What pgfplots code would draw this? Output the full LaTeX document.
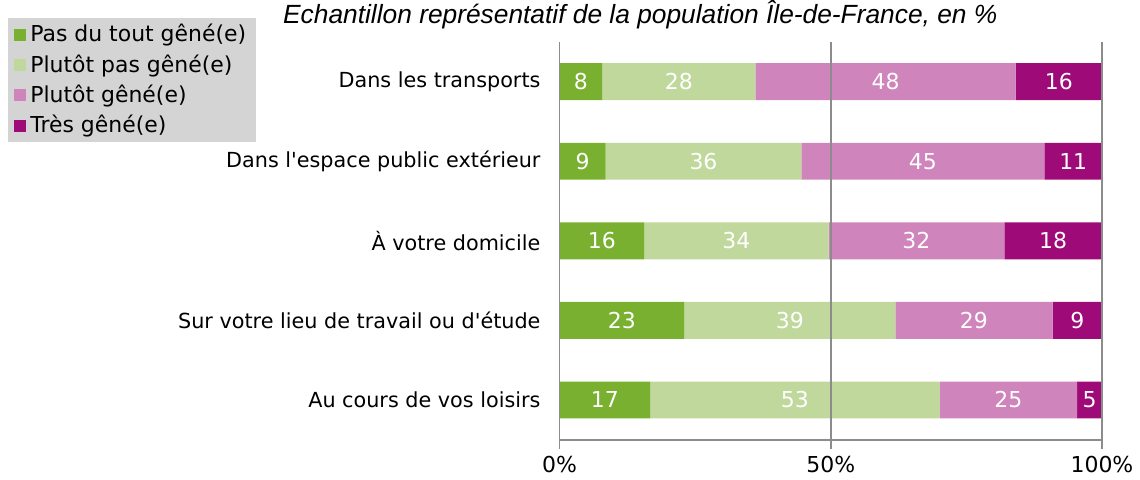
\documentclass[border=0pt]{standalone}
\usepackage{pgfplots}
\usepackage{pgfplotstable}
\pgfplotsset{compat=1.18}
\usepackage{fontspec}
\setmainfont{DejaVu Sans}[Ligatures=TeXOff]
\newfontfamily\titlefont{Liberation Sans}

\definecolor{vert}{HTML}{7AB030}
\definecolor{vertclair}{HTML}{C0D89C}
\definecolor{rose}{HTML}{CF84BC}
\definecolor{violet}{HTML}{9E0A78}
\definecolor{axe}{HTML}{8C8C8C}

% y = 4 en haut
\pgfplotstableread{
y  a     b     c     d
0  16.7  53.4  25.3  4.6
1  23.0  38.9  29.0  9.1
2  15.6  34.0  32.4  18.0
3  8.5   36.1  44.8  10.6
4  7.9   28.2  48.0  15.9
}\data

\begin{document}
\begin{tikzpicture}
\begin{axis}[
  scale only axis,
  width=272pt, height=199.5pt,
  xbar stacked, bar width=18.5pt,
  xmin=0, xmax=100, ymin=-0.5, ymax=4.5,
  axis x line*=bottom, axis y line*=left,
  axis line style={axe, line width=0.8pt},
  axis on top, clip=false,
  xtick={0,50,100}, xticklabels={0\%,50\%,100\%},
  xmajorgrids, grid style={axe, line width=0.8pt},
  xtick style={axe, line width=0.8pt},
  tick align=outside, major tick length=4.5pt,
  ytick={0,...,4},
  yticklabels={Au cours de vos loisirs, Sur votre lieu de travail ou d'étude, À votre domicile, Dans l'espace public extérieur, Dans les transports},
  ytick style={draw=none},
  minor ytick={-0.5,0.5,...,4.5},
  minor tick length=4pt,
  minor y tick style={axe, line width=0.8pt},
  yticklabel style={font=\fontsize{10.4}{12}\selectfont, xshift=-1.5pt},
  xticklabel style={font=\fontsize{11}{13}\selectfont},
  /pgf/number format/assume math mode=true,
  every axis plot/.append style={draw=none},
  point meta=rawx,
  nodes near coords={\pgfmathprintnumber[fixed,precision=0]{\pgfplotspointmeta}},
  every node near coord/.append style={font=\fontsize{11}{13}\selectfont, text=white, anchor=center},
  legend style={at={(-1.0165,1.06)}, anchor=north west, fill=black!17, draw=none,
    font=\fontsize{11}{12}\selectfont, row sep=0.9pt, inner xsep=3pt, inner ysep=1pt,
    cells={anchor=west}},
  legend image code/.code={\fill[#1] (0pt,-3pt) rectangle (6pt,3pt);},
]
\addplot[fill=vert] table[x=a, y=y] {\data};
\addplot[fill=vertclair] table[x=b, y=y] {\data};
\addplot[fill=rose] table[x=c, y=y] {\data};
\addplot[fill=violet] table[x=d, y=y] {\data};
\legend{Pas du tout gêné(e), Plutôt pas gêné(e), Plutôt gêné(e), Très gêné(e)}

\node[anchor=center, inner sep=0pt] at (axis description cs:0.149,1.068)
  {\titlefont\itshape\fontsize{13.2}{15}\selectfont Echantillon représentatif de la population Île-de-France, en \%};
\path (axis description cs:-1.03125,-0.10025) rectangle (axis description cs:1.0643,1.10526);
\end{axis}
\end{tikzpicture}
\end{document}
